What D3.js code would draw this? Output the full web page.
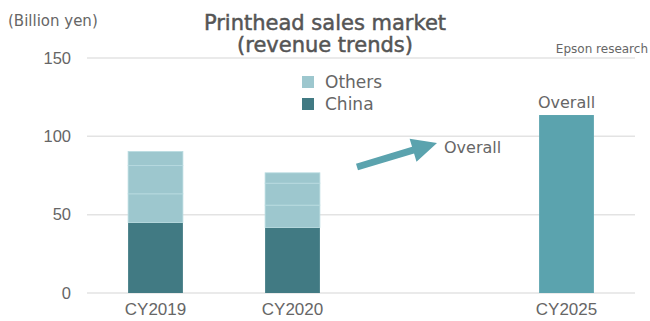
<!DOCTYPE html>
<html>
<head>
<meta charset="utf-8">
<script src="https://cdn.jsdelivr.net/npm/d3@7"></script>
<style>
  html, body { margin: 0; padding: 0; background: #fff; }
  svg { display: block; font-family: "DejaVu Sans", "Noto Sans", sans-serif; }
</style>
</head>
<body>
<svg id="chart" width="650" height="321"></svg>
<script>
// Printhead revenue, billion yen
const categories = ["CY2019", "CY2020", "gap", "CY2025"];
const historicYears = ["CY2019", "CY2020"];
const chinaValues = [45.0, 41.8];
// "Others" is stacked from several regional pieces
const othersPieces = [[18.3, 18.0, 9.0], [14.3, 14.0, 6.6]];
const forecastYear = "CY2025";
const overallForecast = 113.6;
const yTicks = [0, 50, 100, 150];

const colors = { china: "#417a83", others: "#9dc7ce", overall: "#5ba3ae", text: "#666", grid: "#e3e3e3" };

const svg = d3.select("#chart");
const margin = { top: 58, right: 15, bottom: 28, left: 87 };
const W = 650, H = 321;

const x = d3.scaleBand().domain(categories).range([margin.left, W - margin.right]).paddingInner(0.6).paddingOuter(0.3);
const y = d3.scaleLinear().domain([0, 150]).range([H - margin.bottom, margin.top]);

// grid lines
svg.append("g").selectAll("line").data(yTicks).join("line")
  .attr("x1", margin.left).attr("x2", W - margin.right)
  .attr("y1", d => y(d)).attr("y2", d => y(d))
  .attr("stroke", colors.grid).attr("stroke-width", 1.5);

// y axis labels
const yAxis = svg.append("g").attr("transform", `translate(${margin.left - 16},0)`)
  .call(d3.axisLeft(y).tickValues(yTicks).tickSize(0).tickPadding(0));
yAxis.select(".domain").remove();
yAxis.selectAll("text").attr("font-size", 16.5).attr("fill", colors.text).attr("font-family", "inherit");

// x axis labels
const xAxis = svg.append("g").attr("transform", `translate(0,${H - margin.bottom})`)
  .call(d3.axisBottom(x).tickSize(0).tickPadding(10).tickFormat(d => d === "gap" ? "" : d));
xAxis.select(".domain").remove();
xAxis.selectAll("text").attr("font-size", 17).attr("fill", colors.text).attr("font-family", "inherit");

// stacked bars for the historic years
historicYears.forEach((yr, i) => {
  const g = svg.append("g");
  g.append("rect")
    .attr("x", x(yr)).attr("width", x.bandwidth())
    .attr("y", y(chinaValues[i])).attr("height", y(0) - y(chinaValues[i]))
    .attr("fill", colors.china);
  let base = chinaValues[i];
  othersPieces[i].forEach(v => {
    g.append("rect")
      .attr("x", x(yr)).attr("width", x.bandwidth())
      .attr("y", y(base + v)).attr("height", y(base) - y(base + v))
      .attr("fill", colors.others)
      .attr("stroke", "#b8dbe0").attr("stroke-width", 0.8);
    base += v;
  });
});

// forecast bar
svg.append("rect")
  .attr("x", x(forecastYear)).attr("width", x.bandwidth())
  .attr("y", y(overallForecast)).attr("height", y(0) - y(overallForecast))
  .attr("fill", colors.overall);
svg.append("text")
  .attr("x", x(forecastYear) + x.bandwidth() / 2).attr("y", y(overallForecast) - 7)
  .attr("text-anchor", "middle").attr("font-size", 16).attr("fill", colors.text)
  .text("Overall");

// growth arrow toward the forecast
const a0 = [357, 167], a1 = [437, 143];
const ang = Math.atan2(a1[1] - a0[1], a1[0] - a0[0]);
const len = Math.hypot(a1[0] - a0[0], a1[1] - a0[1]);
const headLen = 25, headHalf = 12, shaftHalf = 3.5;
const pts = [
  [0, -shaftHalf], [len - headLen, -shaftHalf], [len - headLen, -headHalf],
  [len, 0], [len - headLen, headHalf], [len - headLen, shaftHalf], [0, shaftHalf]
].map(([u, v]) => [a0[0] + u * Math.cos(ang) - v * Math.sin(ang), a0[1] + u * Math.sin(ang) + v * Math.cos(ang)]);
svg.append("polygon").attr("points", pts.map(p => p.join(",")).join(" ")).attr("fill", colors.overall);
svg.append("text").attr("x", 444).attr("y", 153).attr("font-size", 16).attr("fill", colors.text).text("Overall");

// legend
const legend = [["Others", colors.others], ["China", colors.china]];
legend.forEach(([name, c], i) => {
  svg.append("rect").attr("x", 302).attr("y", 76 + i * 22).attr("width", 12).attr("height", 12).attr("fill", c);
  svg.append("text").attr("x", 325).attr("y", 88 + i * 22).attr("font-size", 17).attr("fill", colors.text).text(name);
});

// two-line title, slightly heavier than body text
const title = svg.append("text").attr("text-anchor", "middle")
  .attr("font-size", 21).attr("fill", "#555").attr("stroke", "#555").attr("stroke-width", 0.5);
title.append("tspan").attr("x", 325).attr("y", 30).text("Printhead sales market");
title.append("tspan").attr("x", 325).attr("y", 52).text("(revenue trends)");

svg.append("text").attr("x", 8).attr("y", 26).attr("font-size", 15).attr("fill", colors.text).text("(Billion yen)");
svg.append("text").attr("x", 648).attr("y", 53).attr("text-anchor", "end").attr("font-size", 12).attr("fill", colors.text).text("Epson research");
</script>
</body>
</html>
